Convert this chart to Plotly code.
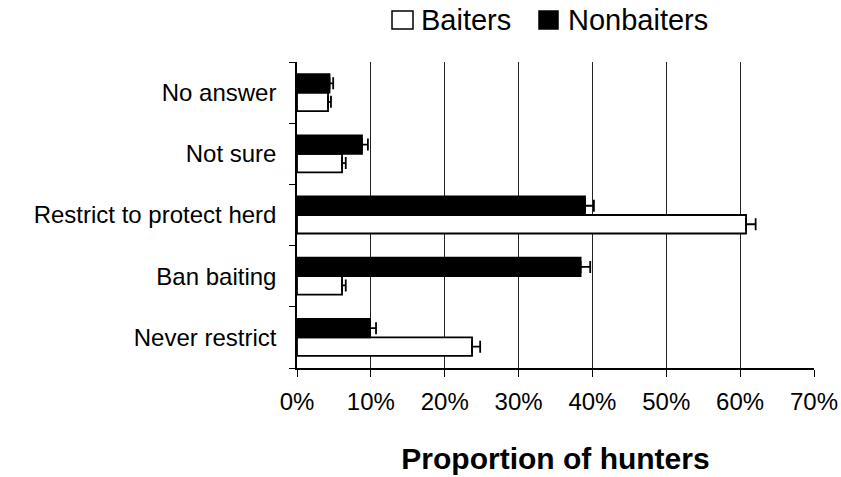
import plotly.graph_objects as go

categories = ["Never restrict", "Ban baiting", "Restrict to protect herd", "Not sure", "No answer"]
baiters = [0.237, 0.061, 0.608, 0.061, 0.042]
baiters_err = [0.011, 0.005, 0.013, 0.005, 0.004]
nonbaiters = [0.099, 0.384, 0.390, 0.088, 0.044]
nonbaiters_err = [0.008, 0.013, 0.012, 0.008, 0.005]
x_ticks = [0, 0.1, 0.2, 0.3, 0.4, 0.5, 0.6, 0.7]
x_tick_labels = ["0%", "10%", "20%", "30%", "40%", "50%", "60%", "70%"]
legend_names = ["Baiters", "Nonbaiters"]
legend_colors = ["white", "black"]

FONT = "Liberation Sans, Arial, sans-serif"
W, H = 841, 477
L, R, T, B = 297, 27, 62, 109
PW, PH = W - L - R, H - T - B


def px_x(px):
    return (px - L) / PW


def px_y(py):
    return (H - B - py) / PH


fig = go.Figure()
fig.add_trace(go.Bar(
    name="Baiters", y=categories, x=baiters, orientation="h",
    marker=dict(color="white", line=dict(color="black", width=1.8)),
    error_x=dict(type="data", symmetric=False, array=baiters_err,
                 arrayminus=[0] * len(baiters), color="black", thickness=1.8, width=6),
    showlegend=False,
))
fig.add_trace(go.Bar(
    name="Nonbaiters", y=categories, x=nonbaiters, orientation="h",
    marker=dict(color="black", line=dict(color="black", width=1.8)),
    error_x=dict(type="data", symmetric=False, array=nonbaiters_err,
                 arrayminus=[0] * len(nonbaiters), color="black", thickness=1.8, width=6),
    showlegend=False,
))

# Manual legend (larger swatches, like the original)
shapes = []
annotations = []
legend_box_px = [(392, 413), (539, 558)]
legend_text_px = [419, 566]
for name, col, (bx0, bx1), tx in zip(legend_names, legend_colors, legend_box_px, legend_text_px):
    shapes.append(dict(type="rect", xref="paper", yref="paper",
                       x0=px_x(bx0), x1=px_x(bx1), y0=px_y(29), y1=px_y(11),
                       fillcolor=col, line=dict(color="black", width=1.5)))
    annotations.append(dict(text=name, xref="paper", yref="paper", x=px_x(tx), y=px_y(20),
                            xanchor="left", yanchor="middle", showarrow=False,
                            font=dict(size=29, family=FONT, color="black")))

fig.update_layout(
    width=W, height=H,
    margin=dict(l=L, r=R, t=T, b=B, autoexpand=False),
    barmode="group", bargap=0.395, bargroupgap=0,
    plot_bgcolor="white", paper_bgcolor="white",
    font=dict(family=FONT, size=24, color="black"),
    showlegend=False,
    shapes=shapes, annotations=annotations,
    xaxis=dict(
        range=[0, 0.7], tickvals=x_ticks, ticktext=x_tick_labels,
        showgrid=True, gridcolor="#222222", gridwidth=1, zeroline=False,
        showline=True, linecolor="black", linewidth=1.5,
        ticks="outside", ticklen=7, tickcolor="black", tickwidth=1,
        tickfont=dict(size=24), ticklabelstandoff=4, automargin=False,
        title=dict(text="<b>Proportion of hunters</b>", font=dict(size=30), standoff=34),
    ),
    yaxis=dict(
        type="category", categoryorder="array", categoryarray=categories,
        showline=True, linecolor="black", linewidth=1.5,
        ticks="outside", ticklen=6, tickcolor="black", tickson="boundaries",
        showgrid=False, tickfont=dict(size=24), ticklabelstandoff=14, automargin=False,
    ),
)

fig.write_html(
    "out.html",
    config={"displayModeBar": False},
    post_script="document.body.style.margin='0';document.body.style.padding='0';",
)
